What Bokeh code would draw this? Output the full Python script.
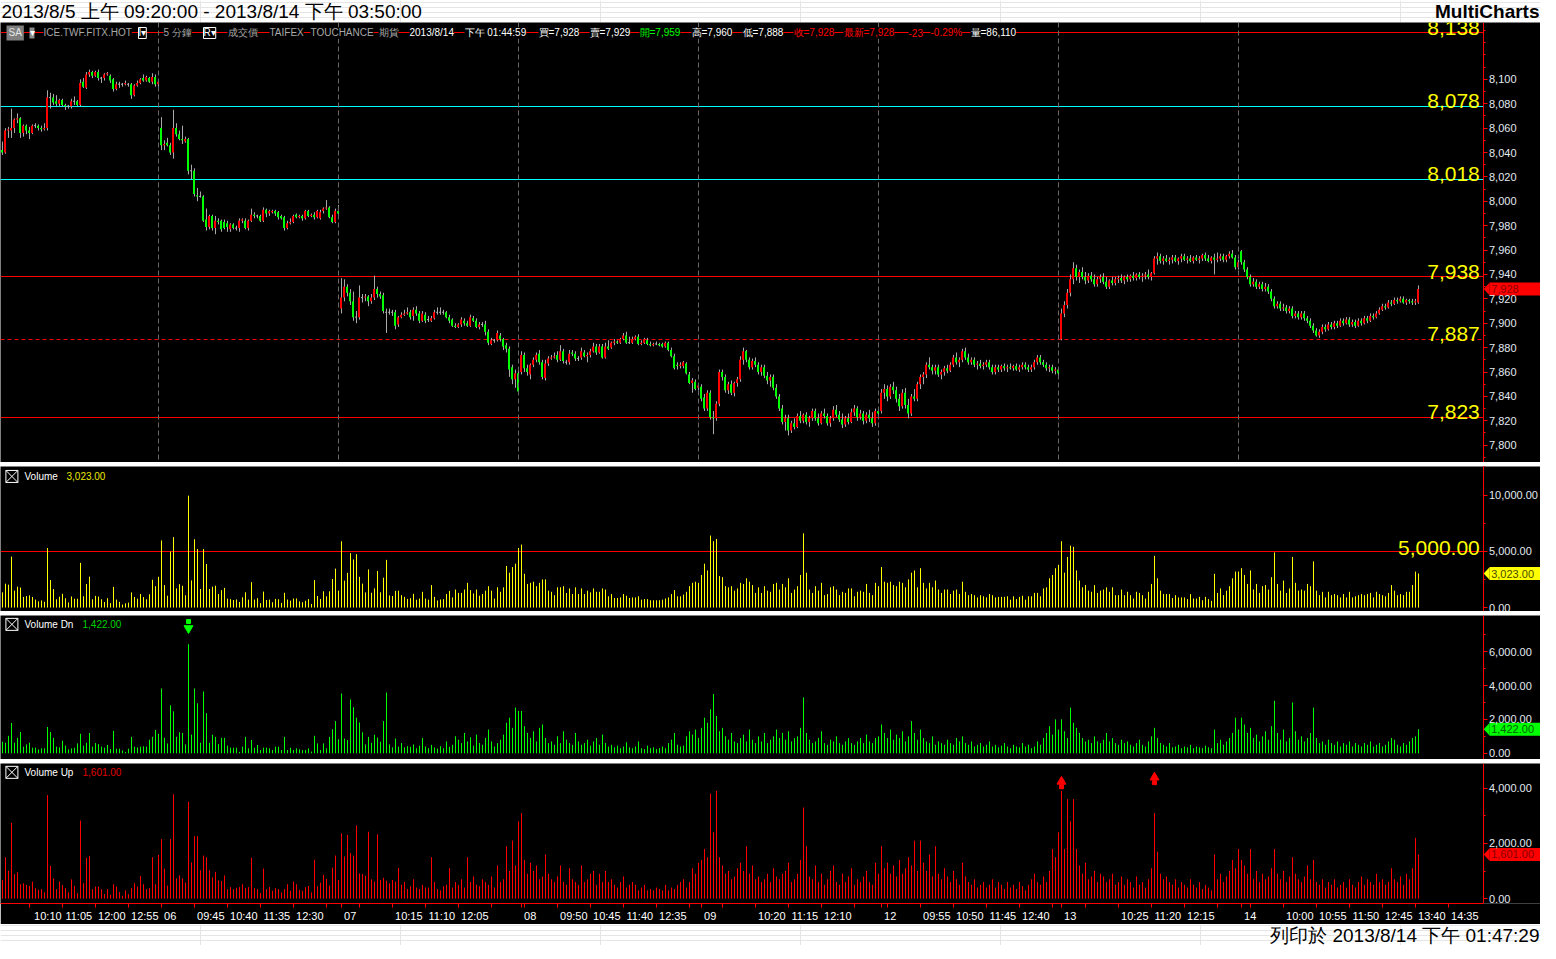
from bokeh.plotting import figure
from bokeh.layouts import column
from bokeh.models import Range1d, Span, Label, FixedTicker, NumeralTickFormatter
from bokeh.core.properties import value
from bokeh.embed import file_html
from bokeh.resources import INLINE

# ---------------- data: 5-minute bars (Open, High, Low, Close) ----------------
day05 = [(8042,8049,8038,8040),(8040,8060,8039,8058),(8058,8061,8052,8059),(8058,8076,8052,8060),(8060,8068,8056,8067),
         (8067,8072,8064,8068),(8068,8069,8052,8056),(8056,8063,8053,8062),(8062,8063,8055,8058),(8058,8061,8051,8056),
         (8056,8063,8055,8062),(8062,8064,8060,8062),(8062,8063,8058,8060),(8060,8062,8057,8059),(8059,8064,8058,8060),
         (8060,8091,8058,8085),(8085,8089,8076,8085),(8085,8088,8079,8081),(8082,8087,8078,8080),(8080,8084,8078,8083),
         (8083,8084,8078,8079),(8079,8080,8075,8078),(8078,8079,8076,8078),(8078,8084,8076,8082),(8082,8086,8079,8082),
         (8082,8083,8078,8079),(8079,8100,8078,8097),(8098,8101,8093,8094),(8093,8106,8092,8104),(8104,8108,8102,8106),
         (8106,8107,8101,8103),(8103,8107,8102,8106),(8106,8108,8099,8101),(8101,8102,8097,8101),(8101,8105,8099,8104),
         (8104,8106,8103,8105),(8103,8104,8097,8099),(8100,8101,8090,8092),(8092,8098,8091,8096),(8096,8098,8093,8096),
         (8096,8097,8094,8096),(8096,8099,8095,8097),(8096,8097,8094,8096),(8096,8097,8084,8087),(8087,8096,8086,8095),
         (8095,8099,8094,8097),(8097,8101,8096,8100),(8101,8104,8098,8099),(8099,8103,8098,8102),(8101,8102,8097,8098),
         (8098,8105,8096,8102),(8102,8104,8094,8096),(8096,8099,8094,8098)]
day06 = [(8060,8069,8042,8046),(8046,8050,8042,8047),(8048,8052,8045,8046),(8046,8048,8038,8040),(8040,8075,8035,8060),
         (8060,8064,8053,8055),(8055,8058,8050,8051),(8051,8062,8047,8050),(8049,8053,8048,8051),(8051,8052,8022,8025),
         (8025,8030,8018,8025),(8025,8027,8004,8006),(8005,8011,8000,8004),(8004,8008,8003,8004),(8004,8005,7983,7984),
         (7985,7994,7976,7979),(7979,7989,7977,7988),(7988,7989,7976,7978),(7978,7988,7973,7984),(7984,7986,7981,7983),
         (7984,7985,7975,7977),(7983,7985,7977,7978),(7982,7984,7975,7979),(7977,7982,7975,7981),(7981,7982,7977,7978),
         (7978,7980,7976,7978),(7978,7986,7975,7984),(7984,7986,7982,7985),(7984,7986,7977,7978),(7978,7985,7976,7984),
         (7984,7994,7983,7989),(7989,7991,7986,7988),(7988,7989,7986,7988),(7988,7989,7983,7984),(7984,7995,7983,7993),
         (7993,7994,7987,7990),(7990,7993,7988,7992),(7991,7993,7990,7992),(7992,7993,7988,7990),(7991,7992,7985,7987),
         (7988,7989,7985,7986),(7987,7988,7976,7978),(7978,7984,7977,7982),(7982,7986,7981,7983),(7983,7989,7982,7988),
         (7989,7990,7986,7987),(7987,7989,7986,7988),(7988,7989,7984,7986),(7986,7993,7985,7992),(7992,7993,7987,7988),
         (7988,7990,7987,7989),(7989,7991,7985,7987),(7987,7993,7986,7992),(7986,7993,7985,7991),(7992,7995,7990,7994),
         (7994,8001,7993,7995),(7995,7996,7986,7987),(7987,7989,7982,7983),(7983,7994,7982,7992),(7992,7997,7989,7990)]
day07 = [(7912,7937,7908,7921),(7921,7936,7918,7930),(7930,7932,7922,7925),(7925,7928,7915,7918),(7918,7926,7902,7905),
         (7905,7910,7900,7905),(7905,7931,7903,7921),(7921,7924,7917,7921),(7921,7924,7918,7922),(7922,7923,7914,7918),
         (7918,7924,7916,7921),(7921,7939,7919,7928),(7928,7930,7921,7924),(7924,7926,7920,7922),(7923,7925,7908,7910),
         (7909,7912,7892,7909),(7909,7912,7907,7909),(7909,7911,7906,7909),(7909,7911,7895,7898),(7899,7906,7897,7905),
         (7905,7909,7904,7907),(7907,7911,7906,7908),(7908,7913,7907,7909),(7909,7911,7903,7905),(7906,7913,7902,7911),
         (7911,7914,7906,7908),(7908,7910,7900,7902),(7902,7910,7901,7908),(7907,7909,7900,7902),(7903,7906,7901,7903),
         (7902,7906,7901,7904),(7904,7911,7903,7909),(7909,7913,7907,7909),(7909,7913,7907,7909),(7909,7911,7907,7909),
         (7909,7910,7904,7905),(7905,7907,7900,7902),(7903,7904,7897,7898),(7898,7900,7896,7897),(7897,7900,7896,7899),
         (7899,7905,7897,7903),(7902,7904,7898,7900),(7900,7902,7897,7898),(7898,7907,7897,7905),(7904,7906,7901,7902),
         (7902,7904,7896,7897),(7897,7901,7895,7899),(7899,7901,7897,7899),(7899,7902,7890,7893),(7893,7895,7882,7884),
         (7883,7888,7882,7886),(7886,7887,7884,7886),(7886,7894,7885,7892),(7890,7892,7885,7887),(7887,7888,7878,7881),
         (7882,7884,7876,7879),(7879,7881,7856,7862),(7864,7866,7850,7854),(7854,7862,7847,7859),(7859,7861,7843,7844)]
day08 = [(7860,7877,7858,7874),(7874,7876,7860,7863),(7863,7866,7857,7860),(7858,7867,7854,7866),(7866,7872,7864,7870),
         (7870,7876,7868,7874),(7875,7878,7866,7868),(7868,7870,7854,7856),(7855,7870,7853,7867),(7867,7873,7865,7871),
         (7871,7874,7870,7872),(7872,7876,7871,7873),(7874,7877,7868,7870),(7870,7882,7869,7877),(7877,7879,7867,7869),
         (7868,7870,7866,7868),(7868,7878,7866,7875),(7876,7878,7873,7875),(7875,7877,7869,7871),(7871,7873,7869,7871),
         (7872,7880,7870,7877),(7876,7878,7872,7873),(7873,7876,7868,7874),(7874,7879,7872,7877),(7877,7884,7876,7881),
         (7881,7883,7874,7876),(7876,7883,7875,7881),(7881,7883,7871,7872),(7872,7884,7871,7881),(7881,7886,7878,7879),
         (7880,7885,7879,7884),(7884,7887,7882,7885),(7885,7886,7883,7884),(7884,7888,7883,7887),(7887,7892,7886,7890),
         (7890,7893,7883,7884),(7884,7889,7883,7884),(7884,7889,7883,7887),(7887,7890,7886,7889),(7889,7891,7882,7883),
         (7883,7886,7882,7884),(7884,7888,7883,7887),(7886,7888,7882,7883),(7883,7885,7881,7882),(7882,7884,7881,7883),
         (7883,7885,7882,7883),(7883,7884,7881,7882),(7883,7884,7880,7881),(7881,7885,7880,7884),(7884,7885,7877,7878),
         (7878,7880,7872,7873),(7873,7875,7862,7863),(7866,7868,7862,7865),(7865,7868,7863,7866),(7865,7869,7863,7868),
         (7867,7868,7858,7859),(7858,7860,7850,7851),(7851,7855,7843,7853),(7852,7854,7845,7846),(7847,7851,7845,7849)]
day09 = [(7848,7850,7836,7838),(7839,7842,7828,7830),(7830,7845,7828,7843),(7843,7845,7821,7823),(7823,7828,7809,7822),
         (7822,7836,7820,7834),(7834,7862,7832,7860),(7860,7862,7853,7856),(7856,7858,7843,7845),(7845,7852,7842,7850),
         (7850,7853,7841,7843),(7843,7852,7840,7851),(7851,7856,7848,7854),(7854,7873,7852,7870),(7870,7880,7866,7877),
         (7877,7878,7868,7870),(7870,7872,7862,7864),(7864,7871,7862,7869),(7869,7872,7864,7866),(7866,7868,7858,7860),
         (7860,7866,7857,7864),(7864,7866,7855,7857),(7857,7860,7850,7853),(7853,7858,7848,7856),(7856,7858,7845,7847),
         (7847,7850,7838,7840),(7840,7842,7828,7830),(7830,7833,7817,7819),(7819,7825,7812,7822),(7822,7825,7808,7812),
         (7812,7820,7810,7818),(7818,7822,7813,7815),(7815,7826,7814,7824),(7824,7828,7818,7820),(7820,7826,7818,7825),
         (7825,7827,7817,7819),(7819,7824,7815,7822),(7822,7830,7820,7828),(7828,7830,7820,7822),(7822,7826,7816,7818),
         (7818,7828,7817,7826),(7826,7830,7822,7824),(7824,7826,7816,7818),(7818,7824,7815,7822),(7822,7832,7820,7829),
         (7829,7833,7823,7825),(7825,7828,7819,7821),(7821,7826,7814,7817),(7817,7824,7815,7822),(7822,7826,7817,7819),
         (7819,7830,7818,7827),(7827,7833,7824,7830),(7830,7832,7820,7823),(7823,7829,7821,7826),(7826,7828,7817,7820),
         (7820,7827,7818,7825),(7825,7829,7819,7822),(7822,7827,7815,7818),(7818,7830,7816,7828),(7828,7831,7823,7826)]
day12 = [(7828,7846,7826,7843),(7843,7850,7838,7846),(7846,7849,7836,7840),(7840,7850,7838,7848),(7848,7852,7842,7845),
         (7845,7848,7835,7838),(7838,7842,7828,7832),(7832,7846,7830,7843),(7843,7847,7830,7833),(7833,7838,7822,7826),
         (7826,7842,7824,7840),(7840,7846,7836,7838),(7838,7852,7836,7850),(7850,7858,7846,7856),(7856,7860,7850,7858),
         (7858,7868,7855,7866),(7866,7872,7862,7864),(7864,7866,7858,7861),(7861,7866,7858,7864),(7864,7866,7856,7858),
         (7858,7862,7854,7860),(7860,7865,7857,7863),(7863,7866,7859,7861),(7861,7868,7860,7866),(7866,7874,7864,7872),
         (7872,7876,7866,7868),(7868,7872,7864,7870),(7870,7879,7868,7877),(7877,7880,7870,7872),(7872,7875,7866,7868),
         (7868,7872,7866,7870),(7870,7872,7864,7866),(7866,7869,7862,7867),(7867,7870,7863,7865),(7865,7868,7862,7866),
         (7866,7870,7864,7868),(7868,7870,7862,7864),(7864,7866,7858,7860),(7860,7866,7858,7864),(7864,7866,7860,7862),
         (7862,7866,7860,7865),(7865,7867,7861,7863),(7863,7866,7860,7864),(7864,7867,7862,7863),(7863,7866,7861,7865),
         (7865,7867,7861,7862),(7862,7866,7860,7864),(7864,7868,7862,7866),(7866,7868,7862,7864),(7864,7866,7860,7862),
         (7862,7866,7860,7864),(7864,7870,7862,7868),(7868,7874,7866,7872),(7872,7874,7866,7868),(7868,7870,7864,7866),
         (7866,7868,7861,7863),(7863,7866,7860,7864),(7864,7866,7859,7861),(7861,7864,7858,7862),(7862,7864,7857,7859)]
day13 = [(7887,7912,7886,7908),(7908,7918,7905,7915),(7915,7928,7912,7925),(7925,7940,7922,7936),(7936,7950,7932,7945),
         (7945,7948,7935,7938),(7938,7944,7933,7942),(7942,7946,7936,7938),(7938,7942,7932,7935),(7935,7941,7933,7939),
         (7939,7942,7934,7936),(7936,7940,7930,7932),(7932,7938,7930,7936),(7936,7940,7933,7938),(7938,7941,7932,7934),
         (7934,7938,7928,7930),(7930,7936,7928,7935),(7935,7938,7931,7933),(7933,7938,7931,7936),(7936,7939,7933,7937),
         (7937,7940,7933,7935),(7935,7939,7932,7938),(7938,7940,7934,7936),(7936,7940,7934,7939),(7939,7942,7935,7937),
         (7937,7941,7935,7940),(7940,7942,7936,7938),(7938,7941,7934,7939),(7939,7942,7936,7940),(7940,7944,7936,7938),
         (7938,7942,7935,7941),(7941,7955,7940,7953),(7953,7958,7948,7955),(7955,7957,7949,7951),(7951,7955,7948,7953),
         (7953,7956,7950,7951),(7951,7954,7948,7952),(7952,7956,7949,7954),(7954,7956,7950,7951),(7951,7954,7948,7953),
         (7953,7957,7950,7955),(7955,7957,7951,7952),(7952,7955,7949,7953),(7953,7956,7950,7951),(7951,7955,7949,7954),
         (7954,7956,7951,7952),(7952,7955,7949,7953),(7953,7957,7951,7956),(7956,7958,7951,7953),(7953,7956,7950,7951),
         (7951,7955,7949,7954),(7954,7957,7940,7952),(7952,7958,7950,7953),(7953,7957,7951,7955),(7955,7957,7950,7952),
         (7952,7956,7950,7955),(7955,7959,7953,7957),(7957,7960,7953,7954),(7954,7956,7944,7946),(7946,7952,7944,7950)]
day14 = [(7959,7960,7948,7950),(7950,7952,7942,7944),(7944,7946,7936,7938),(7938,7940,7930,7932),(7932,7937,7930,7934),
         (7934,7936,7928,7930),(7930,7934,7928,7932),(7932,7934,7926,7928),(7928,7933,7926,7930),(7930,7932,7924,7926),
         (7926,7928,7918,7920),(7920,7922,7912,7914),(7914,7918,7912,7916),(7916,7918,7910,7912),(7912,7916,7910,7913),
         (7913,7915,7908,7910),(7910,7914,7908,7912),(7912,7914,7904,7906),(7906,7910,7904,7908),(7908,7910,7903,7905),
         (7905,7910,7903,7908),(7908,7910,7902,7904),(7904,7906,7900,7902),(7902,7904,7896,7898),(7898,7900,7892,7894),
         (7894,7896,7889,7890),(7890,7895,7888,7893),(7893,7899,7891,7897),(7897,7899,7893,7895),(7895,7901,7894,7899),
         (7899,7901,7895,7897),(7897,7902,7895,7900),(7900,7902,7896,7898),(7898,7904,7897,7902),(7902,7904,7898,7900),
         (7900,7905,7899,7903),(7903,7905,7897,7899),(7899,7903,7897,7901),(7901,7903,7896,7898),(7898,7904,7897,7902),
         (7902,7904,7898,7900),(7900,7906,7899,7904),(7904,7906,7900,7902),(7902,7908,7901,7906),(7906,7908,7903,7905),
         (7905,7910,7904,7908),(7908,7913,7907,7911),(7911,7916,7910,7914),(7914,7916,7911,7913),(7913,7919,7912,7917),
         (7917,7919,7914,7916),(7916,7921,7915,7919),(7919,7921,7916,7918),(7918,7922,7917,7920),(7920,7922,7916,7917),
         (7917,7920,7915,7919),(7919,7920,7916,7918),(7918,7920,7915,7917),(7917,7920,7915,7918),(7917,7931,7916,7928)]

# up-volume (red panel) and down-volume (green panel) per bar; Volume = up + down
up05 = [674,1500,1005,2742,886,946,520,556,496,461,615,378,319,343,225,3747,1182,733,343,615,
        485,378,225,697,461,201,2825,556,1478,1548,343,437,437,343,165,343,142,520,437,236,
        106,296,165,378,556,437,816,520,343,378,1500,520,1584]
dn05 = [680,620,1030,1790,620,910,1260,390,520,620,330,330,230,290,290,1550,1260,910,390,350,
        740,450,230,290,330,580,1150,450,620,1200,390,600,540,390,330,490,250,1320,270,270,
        160,80,270,970,390,350,390,410,390,800,970,1380,1150]
up06 = [2151,1087,473,2151,3782,733,839,733,579,3510,1312,2258,2258,1028,1560,1500,1028,768,969,662,
        638,839,343,414,343,390,414,520,390,414,1478,378,343,201,1087,343,414,284,378,343,
        225,343,520,284,615,520,319,284,414,461,225,1407,449,579,863,709,473,1123,1560,674]
dn06 = [3820,910,580,2830,2480,970,1240,1200,520,6440,1100,3820,2950,620,3650,2370,620,1090,970,540,
        910,910,450,330,330,330,80,390,970,290,780,330,490,190,330,330,290,190,390,390,
        190,970,190,330,190,290,230,190,190,290,100,1030,580,190,580,290,970,1420,1900,830]
up07 = [2364,1525,2305,1655,1560,2648,910,886,827,2423,697,615,2329,674,757,650,556,674,615,1111,
        500,600,350,450,700,400,350,500,400,400,1500,600,350,300,450,500,1100,400,600,500,
        700,400,1500,600,800,500,450,700,600,500,800,400,1200,600,700,1900,1000,2100,1200,2800]
dn07 = [3530,870,780,3180,2720,2100,1820,1240,520,970,620,1090,930,680,1900,3590,520,350,870,390,
        600,350,420,380,520,300,450,900,400,300,500,350,280,420,300,700,380,500,1000,800,
        600,1200,700,950,450,1100,600,500,900,1400,700,400,600,800,1100,1800,2100,1500,2700,2500]
up08 = [3100,1400,900,1300,1000,1200,700,800,1600,900,700,600,800,1200,600,500,1100,700,600,500,
        1200,600,700,900,1000,500,900,600,1000,600,700,500,400,600,800,400,500,600,500,300,
        400,500,300,350,300,400,350,300,500,300,400,350,500,600,700,400,600,1100,900,1300]
dn08 = [2500,1600,1200,900,1300,700,1500,1700,900,600,700,500,1000,600,1300,800,600,500,1200,700,
        500,600,800,450,700,900,500,1100,600,400,500,350,450,300,400,650,350,300,400,700,
        300,250,450,300,350,250,300,400,300,600,800,1200,500,400,450,1000,1300,1100,1400,900]
up09 = [1400,1800,1500,3800,2400,3900,1500,1200,900,1000,700,800,1100,1300,1000,1900,900,1200,700,800,
        600,700,900,600,1100,800,700,900,1000,1300,600,700,900,1400,3300,1900,800,700,1200,600,
        900,500,700,1000,1200,600,500,900,600,800,1100,500,700,600,800,1000,600,500,1300,900]
dn09 = [1500,2100,1800,2600,3500,2200,1300,1500,1000,800,1200,700,600,900,1100,700,1400,800,600,1000,
        700,1200,600,800,1000,1400,900,1200,800,1300,700,900,1000,1500,3300,1200,800,600,700,900,
        1300,600,500,800,700,1000,600,500,700,900,600,500,700,900,600,1100,700,600,900,1000]
up12 = [1900,1100,1300,900,1200,800,1400,900,1100,1500,1200,2100,1000,2100,1300,1000,1600,800,1900,900,
        700,1100,800,600,1000,700,500,1300,800,600,500,700,400,500,600,400,500,700,400,600,
        500,350,600,400,500,350,600,450,300,500,700,900,600,500,800,600,1000,1800,1500,2400]
dn12 = [1700,1200,900,1400,800,1100,900,1300,700,1000,1900,1200,800,1400,900,700,600,1000,500,700,
        600,500,800,600,500,900,700,1000,600,500,700,400,500,600,400,500,700,400,500,350,
        450,600,400,300,500,400,350,600,400,500,300,400,700,500,900,1200,1600,1100,2000,1400]
up13 = [3900,1800,3600,2800,3600,1800,1200,900,1300,700,800,1000,600,900,800,600,700,900,500,600,
        800,500,700,600,400,800,500,600,400,700,1100,3100,1700,900,700,800,600,500,700,400,
        600,500,400,700,500,400,600,350,500,400,300,1600,700,900,600,800,1000,1400,1100,1800]
dn13 = [2000,1300,900,2700,1800,1500,1200,900,700,800,600,1000,700,600,800,1200,700,900,600,500,
        800,600,700,500,400,600,800,500,400,700,1000,1500,900,600,500,400,600,350,400,500,
        300,400,350,500,300,400,350,300,450,350,300,1400,600,800,500,700,900,1200,2100,1400]
up14 = [1400,1200,900,1800,700,1000,600,900,700,800,1100,1800,900,700,1000,600,800,1500,900,700,
        600,800,1200,700,1400,600,500,700,400,600,500,700,400,500,600,400,700,500,400,600,
        800,500,700,600,500,900,600,700,500,600,1100,700,600,800,500,900,700,1100,2200,1601]
dn14 = [2100,1700,1200,1500,900,1100,700,1000,1300,800,1600,3100,1200,800,1400,700,900,3000,1300,800,
        1000,700,900,1200,2700,900,600,700,500,800,600,500,700,400,600,500,700,400,600,500,
        400,600,500,700,400,500,600,400,500,700,900,800,500,400,600,500,700,900,1000,1422]

tick_bars = [9,20,31,42,53,64,75,86,97,108,113,119,130,141,152,163,173,174,185,196,207,218,229,233,240,
             251,262,273,284,293,295,306,317,328,339,350,353,361,372,383,394,405,413,416,427,438,449,460,471,482]
tick_text = ["10:10","11:05","12:00","12:55","06","09:45","10:40","11:35","12:30","","07","","10:15","11:10","12:05","",
             "08","","09:50","10:45","11:40","12:35","","09","","10:20","11:15","12:10","","12","","09:55","10:50",
             "11:45","12:40","","13","","10:25","11:20","12:15","","14","","10:00","10:55","11:50","12:45","13:40","14:35"]
day_end_bars = [52, 112, 172, 232, 292, 352, 412]
levels = [8138, 8078, 8018, 7938, 7887, 7823]
level_text = ["8,138", "8,078", "8,018", "7,938", "7,887", "7,823"]
dn_signal_bars = [62]
up_signal_bars = [353, 384]

# ---------------- geometry / style ----------------
W = 1540
X0 = -0.5
X1 = X0 + W / 3.0            # 3 px per bar
AXIS_X = 493.6667            # bar coordinate of the price/volume scale line
LX = 1 / 6                   # offset that puts 1-px strokes on whole pixels
FONT = "Liberation Sans"
AXC = "#e2eaf2"
XR = Range1d(X0, X1)

bars = day05 + day06 + day07 + day08 + day09 + day12 + day13 + day14
N = len(bars)
xs = list(range(N))
O = [b[0] for b in bars]
H = [b[1] for b in bars]
L = [b[2] for b in bars]
C = [b[3] for b in bars]
vup = up05 + up06 + up07 + up08 + up09 + up12 + up13 + up14
vdn = dn05 + dn06 + dn07 + dn08 + dn09 + dn12 + dn13 + dn14
vtot = [a + b for a, b in zip(vup, vdn)]
lx = [i + LX for i in xs]


def strip(h, bg):
    return figure(frame_width=W, frame_height=h, x_range=Range1d(0, W), y_range=Range1d(0, h),
                  output_backend="svg", toolbar_location=None, x_axis_location=None,
                  y_axis_location=None, min_border=0, background_fill_color=bg,
                  border_fill_color=bg, outline_line_color=None)


def panel(fh, y0, y1, xaxis=False):
    p = figure(frame_width=W, frame_height=fh, x_range=XR, y_range=Range1d(y0, y1),
               output_backend="svg", toolbar_location=None,
               x_axis_location=("below" if xaxis else None), y_axis_location="right",
               min_border=0, background_fill_color="black", border_fill_color="black",
               outline_line_color=None)
    p.xgrid.visible = False
    p.ygrid.visible = False
    return p


def style_y(p, ticks, minor, fmt):
    ax = p.yaxis[0]
    ax.fixed_location = AXIS_X
    ax.ticker = FixedTicker(ticks=ticks, minor_ticks=minor)
    ax.formatter = NumeralTickFormatter(format=fmt)
    ax.axis_line_color = "#ff0000"
    ax.major_tick_line_color = "#ff0000"
    ax.minor_tick_line_color = "#ff0000"
    ax.major_tick_out = 4
    ax.major_tick_in = 0
    ax.minor_tick_out = 2
    ax.minor_tick_in = 0
    ax.major_label_text_color = AXC
    ax.major_label_text_font = FONT
    ax.major_label_text_font_size = "11px"
    ax.major_label_standoff = 2


def hline(p, lv, color, dash="solid"):
    # keep a 1-px horizontal line on a whole pixel row
    y0, y1, fh = p.y_range.start, p.y_range.end, p.frame_height
    k = round((y1 - lv) * fh / (y1 - y0))
    ys = y1 - k * (y1 - y0) / fh
    p.segment(x0=[X0], y0=[ys], x1=[AXIS_X], y1=[ys], line_color=color, line_dash=dash, line_width=1)


def marker(p, yv, txt, bg, fg, half):
    # last-value tag on the scale: arrow + box + text
    p.patch(x=[493.9, 495.9, 495.9], y=[yv, yv + half, yv - half], fill_color=bg, line_color=None)
    p.quad(left=[495.9], right=[X1], top=[yv + half], bottom=[yv - half], fill_color=bg, line_color=None)
    p.text(x=[496.4], y=[yv], text=[txt], text_baseline="middle", text_font=value(FONT),
           text_font_size="11px", text_color=fg)


def hdr(p, x, yv, txt, color, bg="black", border=None):
    p.add_layout(Label(x=(x - 1.5) / 3.0, y=yv, text=txt, text_font=FONT, text_font_size="10px",
                       text_color=color, text_baseline="middle", background_fill_color=bg,
                       border_line_color=border))


# ---------------- title bar ----------------
title = strip(22, "white")
title.text(x=[1], y=[11], text=["2013/8/5 上午 09:20:00 - 2013/8/14 下午 03:50:00"],
           text_baseline="middle", text_font=value(FONT), text_font_size="19px", text_color="black")
title.text(x=[W - 1], y=[11], text=["MultiCharts"], text_align="right", text_baseline="middle",
           text_font=value(FONT), text_font_size="19px", text_font_style="bold", text_color="black")

# ---------------- price panel ----------------
pp = panel(440, 7785.8, 8146.6)
style_y(pp, list(range(7800, 8101, 20)), list(range(7790, 8141, 10)), "0,0")
for b in day_end_bars:
    pp.add_layout(Span(location=b + LX, dimension="height", line_color="#6a6a6a", line_dash="5 3", line_width=1))
lvl_col = ["#ff0000", "#00ffff", "#00ffff", "#ff0000", "#ff0000", "#ff0000"]
lvl_dash = ["solid", "solid", "solid", "solid", "4 3", "solid"]
for lv, c, d in zip(levels, lvl_col, lvl_dash):
    hline(pp, lv, c, d)
pp.text(x=[492.6] * len(levels), y=[v + 4 for v in levels], text=level_text, text_align="right",
        text_baseline="alphabetic", text_color="#ffff00", text_font=value(FONT), text_font_size="21px")

pp.segment(x0=lx, y0=L, x1=lx, y1=H, line_color="#a8a8a8", line_width=1)
ux = [i for i in xs if C[i] > O[i]]
dx = [i for i in xs if C[i] < O[i]]
zx = [i for i in xs if C[i] == O[i]]
pp.vbar(x=ux, width=2 / 3, top=[C[i] for i in ux], bottom=[O[i] for i in ux],
        fill_color="#ff0000", line_color=None)
pp.vbar(x=dx, width=2 / 3, top=[O[i] for i in dx], bottom=[C[i] for i in dx],
        fill_color="#00ff00", line_color=None)
pp.segment(x0=[i - 1 / 3 for i in zx], y0=[C[i] for i in zx], x1=[i + 1 / 3 for i in zx], y1=[C[i] for i in zx],
           line_color="#b0b0b0", line_width=1)
marker(pp, C[-1], "7,928", "#ff0000", "#8a0000", 5.3)

hy = 8138
pp.add_layout(Label(x=(6 - 1.5) / 3.0, y=hy, text="SA", text_font=FONT, text_font_size="10px",
                    text_color="#e6e6e6", text_baseline="middle", background_fill_color="#7f7f7f", padding=2))
hdr(pp, 29, hy, "▾", "white", bg="#8c8c8c")
hdr(pp, 43, hy, "ICE.TWF.FITX.HOT", "#a8a8a8")
hdr(pp, 138, hy, "I▾", "white", border="white")
hdr(pp, 163, hy, "5 分鐘", "#a8a8a8")
hdr(pp, 203, hy, "R▾", "white", border="white")
hdr(pp, 227, hy, "成交價", "#a8a8a8")
hdr(pp, 269, hy, "TAIFEX", "#a8a8a8")
hdr(pp, 310, hy, "TOUCHANCE", "#a8a8a8")
hdr(pp, 378, hy, "期貨", "#a8a8a8")
hdr(pp, 409, hy, "2013/8/14", "white")
hdr(pp, 464, hy, "下午 01:44:59", "white")
hdr(pp, 538, hy, "買=7,928", "white")
hdr(pp, 589, hy, "賣=7,929", "white")
hdr(pp, 639, hy, "開=7,959", "#00ff00")
hdr(pp, 691, hy, "高=7,960", "white")
hdr(pp, 742, hy, "低=7,888", "white")
hdr(pp, 793, hy, "收=7,928", "#ff0000")
hdr(pp, 843, hy, "最新=7,928", "#ff0000")
hdr(pp, 908, hy, "-23", "#ff0000")
hdr(pp, 930, hy, "-0.29%", "#ff0000")
hdr(pp, 970, hy, "量=86,110", "white")

# ---------------- volume ----------------
pv = panel(145, -351, 12544)
style_y(pv, [0, 5000, 10000], [2500, 7500, 12500], "0,0.00")
hline(pv, 5000, "#ff0000")
pv.text(x=[492.6], y=[5270], text=["5,000.00"], text_align="right", text_baseline="alphabetic",
        text_color="#ffff00", text_font=value(FONT), text_font_size="21px")
pv.segment(x0=lx, y0=[0] * N, x1=lx, y1=vtot, line_color="#ffff00", line_width=1)
pv.scatter(x=[3.3], y=[11660], marker="square_x", size=12, fill_color=None, line_color="white")
hdr(pv, 24, 11660, "Volume", "white")
hdr(pv, 66, 11660, "3,023.00", "#e8e800")
marker(pv, vtot[-1], "3,023.00", "#ffff00", "#4a4a00", 578)

# ---------------- volume down ----------------
pdn = panel(144, -367, 8136)
style_y(pdn, [0, 2000, 4000, 6000], [1000, 3000, 5000, 7000], "0,0.00")
pdn.segment(x0=lx, y0=[0] * N, x1=lx, y1=vdn, line_color="#00ff00", line_width=1)
pdn.scatter(x=[3.3], y=[7612], marker="square_x", size=12, fill_color=None, line_color="white")
hdr(pdn, 24, 7612, "Volume Dn", "white")
hdr(pdn, 82, 7612, "1,422.00", "#00d000")
for b in dn_signal_bars:
    pdn.scatter(x=[b + LX, b + LX], y=[7780, 7380], marker=["square", "inverted_triangle"], size=[4, 9],
                fill_color="#00ff00", line_color="#00ff00")
marker(pdn, vdn[-1], "1,422.00", "#00ff00", "#006400", 384)

# ---------------- volume up (with time axis) ----------------
pup = panel(140, -177, 4894, xaxis=True)
style_y(pup, [0, 2000, 4000], [1000, 3000], "0,0.00")
pup.segment(x0=lx, y0=[0] * N, x1=lx, y1=vup, line_color="#ff0000", line_width=1)
pup.scatter(x=[3.3], y=[4574], marker="square_x", size=12, fill_color=None, line_color="white")
hdr(pup, 24, 4574, "Volume Up", "white")
hdr(pup, 82, 4574, "1,601.00", "#e00000")
for b, yv in zip(up_signal_bars, [4180, 4330]):
    pup.scatter(x=[b + LX, b + LX], y=[yv - 130, yv + 60], marker=["square", "triangle"], size=[4, 9],
                fill_color="#ff0000", line_color="#ff0000")
marker(pup, vup[-1], "1,601.00", "#ff0000", "#8a0000", 235)

NB = "\u00a0"
xa = pup.xaxis[0]
xa.ticker = FixedTicker(ticks=tick_bars)
xa.major_label_overrides = {b: ((NB * (11 if len(t) == 5 else 6)) + t if t else "")
                            for b, t in zip(tick_bars, tick_text)}
xa.bounds = (X0, AXIS_X)
xa.axis_line_color = "#ff0000"
xa.major_tick_line_color = "#ff0000"
xa.minor_tick_line_color = None
xa.major_tick_out = 4
xa.major_tick_in = 0
xa.major_label_text_color = "white"
xa.major_label_text_font = FONT
xa.major_label_text_font_size = "11px"
xa.major_label_standoff = 2

# ---------------- footer ----------------
foot = strip(21, "white")
foot.text(x=[W - 1], y=[10], text=["列印於 2013/8/14 下午 01:47:29"], text_align="right",
          text_baseline="middle", text_font=value(FONT), text_font_size="19px", text_color="black")


def sep():
    return strip(4, "#d8d8d8")


layout = column(title, pp, sep(), pv, sep(), pdn, sep(), pup, foot, spacing=0)
open("out.html", "w").write(file_html(layout, INLINE))
